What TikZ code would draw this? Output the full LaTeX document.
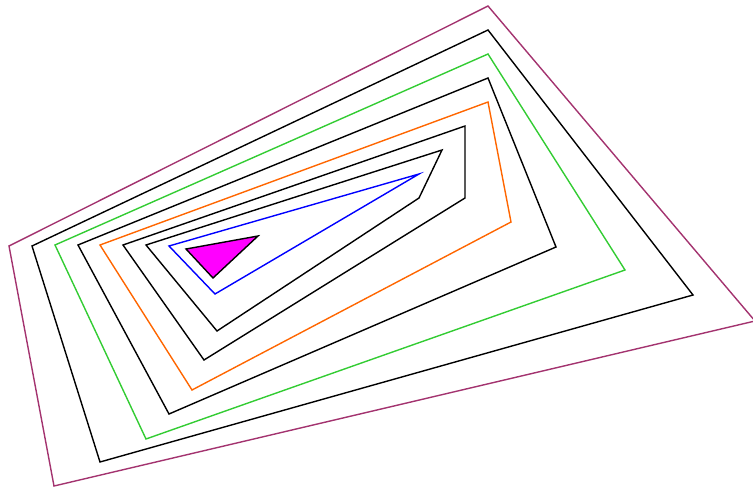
\documentclass[tikz,border=0pt]{standalone}
\usepackage{xcolor}
\usepackage{tikz}
\definecolor{outerline}{HTML}{A3336F}
\definecolor{ringgreen}{HTML}{33CC33}
\definecolor{ringorange}{HTML}{FF6600}
\definecolor{ringblue}{HTML}{0000FF}
\definecolor{core}{HTML}{FF00FF}

\begin{document}
\begin{tikzpicture}[
    x=1pt, y=-1pt,
    ring/.style={line width=1.4pt, line join=miter},
    outerring/.style={ring, draw=outerline},
    blackring/.style={ring, draw=black},
    greenring/.style={ring, draw=ringgreen},
    orangering/.style={ring, draw=ringorange},
    bluering/.style={ring, draw=ringblue},
    corepatch/.style={ring, draw=black, fill=core}
]
    \useasboundingbox (0,0) rectangle (753,487);
    \clip (0,0) rectangle (753,487);

    % outermost quadrilateral
    \draw[outerring] (9,246) -- (488,6) -- (755,321) -- (54,486) -- cycle;

    % nested rings, outside in
    \draw[blackring] (32,246) -- (488,30) -- (693,295) -- (100,462) -- cycle;
    \draw[greenring] (55,245) -- (488,54) -- (625,270) -- (146,439) -- cycle;
    \draw[blackring] (78,245) -- (488,78) -- (556,247) -- (169,414) -- cycle;
    \draw[orangering] (100,245) -- (488,102) -- (511,222) -- (192,390) -- cycle;
    \draw[blackring] (123,245) -- (465,126) -- (465,198) -- (204,360) -- cycle;
    \draw[blackring] (146,245) -- (442,150) -- (419,198) -- (217,331) -- cycle;
    \draw[bluering] (169,246) -- (419,174) -- (215,294) -- cycle;

    % filled core
    \draw[corepatch] (186,249) -- (258,236) -- (213,278) -- cycle;
\end{tikzpicture}
\end{document}
